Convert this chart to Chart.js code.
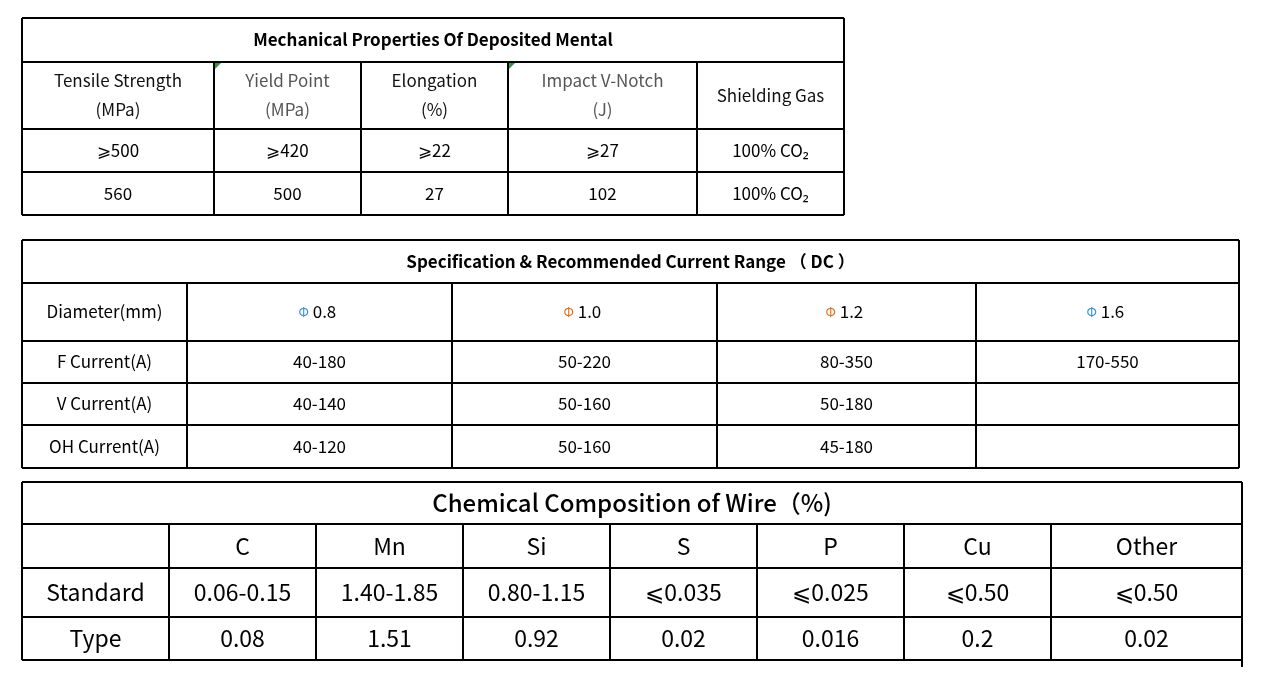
<!DOCTYPE html>
<html><head><meta charset="utf-8">
<script src="https://cdn.jsdelivr.net/npm/chart.js@4/dist/chart.umd.min.js"></script>
<style>html,body{margin:0;padding:0;background:#fff;}canvas{display:block}</style>
</head><body>
<canvas id="c" width="1265" height="677"></canvas>
<script>
const mechTitle = "Mechanical Properties Of Deposited Mental";
const mechHeaders = ["Tensile Strength\n(MPa)", "Yield Point\n(MPa)", "Elongation\n(%)", "Impact V-Notch\n(J)", "Shielding Gas"];
const mechStandard = ["⩾500", "⩾420", "⩾22", "⩾27", "100% CO₂"];
const mechTypical = ["560", "500", "27", "102", "100% CO₂"];

const specTitle = "Specification & Recommended Current Range （ DC ）";
const specHeader = ["Diameter(mm)", "0.8", "1.0", "1.2", "1.6"];
const fCurrent = ["F Current(A)", "40-180", "50-220", "80-350", "170-550"];
const vCurrent = ["V Current(A)", "40-140", "50-160", "50-180", ""];
const ohCurrent = ["OH Current(A)", "40-120", "50-160", "45-180", ""];

const chemTitle = "Chemical Composition of Wire（%)";
const chemElements = ["", "C", "Mn", "Si", "S", "P", "Cu", "Other"];
const chemStandard = ["Standard", "0.06-0.15", "1.40-1.85", "0.80-1.15", "⩽0.035", "⩽0.025", "⩽0.50", "⩽0.50"];
const chemType = ["Type", "0.08", "1.51", "0.92", "0.02", "0.016", "0.2", "0.02"];

const FF = '"Noto Sans CJK SC","Noto Sans",sans-serif';

function drawTable(ctx, t) {
  const xs = t.cols, ys = t.rows;
  ctx.strokeStyle = '#000'; ctx.lineWidth = 2;
  ctx.textAlign = 'center'; ctx.textBaseline = 'middle';
  ctx.beginPath();
  ctx.moveTo(xs[0], ys[0]); ctx.lineTo(xs[xs.length-1], ys[0]);
  ys.slice(1).forEach(y => { ctx.moveTo(xs[0], y); ctx.lineTo(xs[xs.length-1], y); });
  ctx.moveTo(xs[0], ys[0]); ctx.lineTo(xs[0], ys[ys.length-1]);
  ctx.moveTo(xs[xs.length-1], ys[0]); ctx.lineTo(xs[xs.length-1], ys[ys.length-1] + (t.extend||0));
  xs.slice(1, -1).forEach(x => { ctx.moveTo(x, ys[1]); ctx.lineTo(x, ys[ys.length-1]); });
  ctx.stroke();
  ctx.fillStyle = '#000';
  ctx.font = t.titleFont;
  ctx.fillText(t.title, (xs[0] + xs[xs.length-1]) / 2, (ys[0] + ys[1]) / 2);
  t.body.forEach((row, ri) => {
    row.forEach((cell, ci) => {
      const cx = (xs[ci] + xs[ci+1]) / 2, cy = (ys[ri+1] + ys[ri+2]) / 2;
      ctx.font = t.font;
      ctx.fillStyle = (t.colors && t.colors[ri] && t.colors[ri][ci]) || '#000';
      if (t.phi && ri === 0 && ci > 0) {
        const w = ctx.measureText(cell).width;
        ctx.fillStyle = t.phi[ci];
        ctx.font = '13px ' + FF;
        ctx.fillText('Φ', cx - w/2 - 4, cy);
        ctx.fillStyle = '#000'; ctx.font = t.font;
        ctx.fillText(cell, cx + 5, cy);
        return;
      }
      const lines = cell.split('\n');
      const lh = t.lh || 28;
      lines.forEach((ln, li) => ctx.fillText(ln, cx, cy + (li - (lines.length-1)/2) * lh));
    });
  });
}

const tablesPlugin = {
  id: 'tables',
  afterDraw(chart) {
    const ctx = chart.ctx;
    ctx.save();
    drawTable(ctx, {
      cols: [22,214,361,508,697,844], rows: [18,62,129,172,215],
      title: mechTitle, titleFont: 'bold 17px ' + FF, font: '17px ' + FF, lh: 29,
      body: [mechHeaders, mechStandard, mechTypical],
      colors: [['#111','#555','#111','#555','#111']]
    });
    ctx.fillStyle = '#2a9a3a';
    [214, 508].forEach(x => { ctx.beginPath(); ctx.moveTo(x+1, 63); ctx.lineTo(x+7, 63); ctx.lineTo(x+1, 69); ctx.fill(); });
    drawTable(ctx, {
      cols: [22,187,452,717,976,1239], rows: [240,283,341,383,425,468],
      title: specTitle, titleFont: 'bold 17px ' + FF, font: '17px ' + FF,
      body: [specHeader, fCurrent, vCurrent, ohCurrent],
      phi: [null, '#3a8fd8', '#e07020', '#e07020', '#3a8fd8']
    });
    drawTable(ctx, {
      cols: [22,169,316,463,610,757,904,1051,1242], rows: [482,524,568,617,660],
      title: chemTitle, titleFont: '500 24px ' + FF, font: '23px ' + FF, extend: 7,
      body: [chemElements, chemStandard, chemType]
    });
    ctx.restore();
  }
};

new Chart(document.getElementById('c'), {
  type: 'bar',
  data: { labels: [], datasets: [] },
  options: {
    responsive: false, animation: false,
    plugins: { legend: { display: false }, tooltip: { enabled: false } },
    scales: { x: { display: false }, y: { display: false } }
  },
  plugins: [tablesPlugin]
});
</script>
</body></html>
